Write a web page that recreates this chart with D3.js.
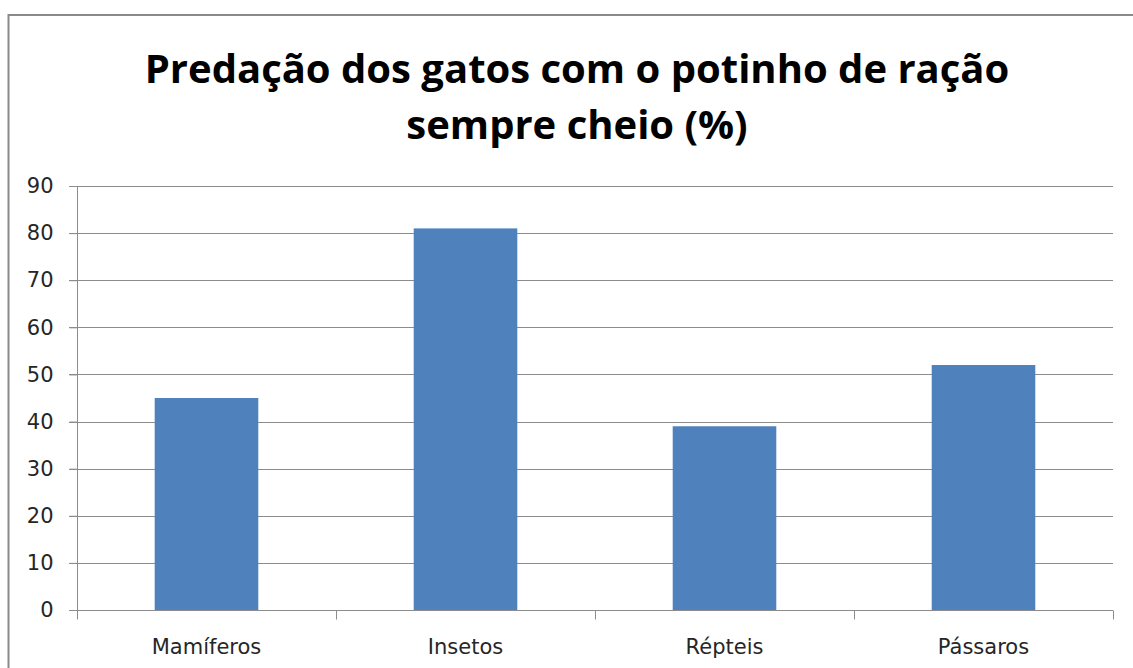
<!DOCTYPE html>
<html>
<head>
<meta charset="utf-8">
<script src="https://cdn.jsdelivr.net/npm/d3@7"></script>
<style>
  html, body { margin: 0; padding: 0; background: #fff; }
  svg { display: block; }
</style>
</head>
<body>
<svg id="chart" width="1133" height="668"></svg>
<script>
// Categories and percentages of prey
const categories = ["Mamíferos", "Insetos", "Répteis", "Pássaros"];
const values = [45, 81, 39, 52];
const yTicks = [0, 10, 20, 30, 40, 50, 60, 70, 80, 90];
const titleLines = ["Predação dos gatos com o potinho de ração", "sempre cheio (%)"];

const svg = d3.select("#chart");
const W = 1133, H = 668;
const margin = { left: 77, top: 186 };
const plotRight = 1113, plotBottom = 610;

// Outer frame
svg.append("rect")
  .attr("x", 8.5).attr("y", 15)
  .attr("width", W + 10).attr("height", H + 10)
  .attr("fill", "none").attr("stroke", "#8a8a8a").attr("stroke-width", 2);

// Title
const title = svg.append("text")
  .attr("text-anchor", "middle")
  .attr("font-family", "'Open Sans', 'Liberation Sans', sans-serif")
  .attr("font-weight", "bold")
  .attr("font-size", 40)
  .attr("fill", "#000");
titleLines.forEach((t, i) => {
  title.append("tspan").attr("x", 577).attr("y", 83 + i * 56).text(t);
});

const x = d3.scaleBand().domain(categories).range([margin.left, plotRight]).paddingInner(0.6).paddingOuter(0.3);
const xOuter = d3.scaleBand().domain(categories).range([margin.left, plotRight]);
const y = d3.scaleLinear().domain([0, 90]).range([plotBottom, margin.top]);

// Gridlines
svg.append("g").selectAll("line").data(yTicks).join("line")
  .attr("x1", margin.left - 8).attr("x2", plotRight)
  .attr("y1", d => Math.round(y(d)) + 0.5).attr("y2", d => Math.round(y(d)) + 0.5)
  .attr("stroke", "#8c8c8c").attr("stroke-width", 1);

// Y axis
const yAxis = d3.axisLeft(y).tickValues(yTicks).tickSize(8).tickPadding(16);
const gy = svg.append("g").attr("transform", `translate(${margin.left + 0.5},0)`).call(yAxis);
gy.select(".domain").attr("stroke", "#8c8c8c").attr("d", `M0,${margin.top}V${plotBottom}`);
gy.selectAll(".tick line").attr("stroke", "#8c8c8c");
gy.selectAll(".tick text")
  .attr("font-family", "'DejaVu Sans', sans-serif")
  .attr("font-size", 21).attr("fill", "#262626");

// Bars
svg.append("g").selectAll("rect").data(categories).join("rect")
  .attr("x", d => x(d))
  .attr("width", x.bandwidth())
  .attr("y", (d, i) => y(values[i]))
  .attr("height", (d, i) => plotBottom - y(values[i]))
  .attr("fill", "#4f81bd");

// X axis
const gx = svg.append("g").attr("transform", `translate(0,${plotBottom + 0.5})`);
gx.append("line").attr("x1", margin.left).attr("x2", plotRight).attr("stroke", "#8c8c8c");
const edges = [margin.left, ...categories.map(c => xOuter(c) + xOuter.bandwidth())];
gx.selectAll("line.tk").data(edges).join("line").attr("class", "tk")
  .attr("x1", d => Math.round(d) + 0.5).attr("x2", d => Math.round(d) + 0.5)
  .attr("y1", 0).attr("y2", 9).attr("stroke", "#8c8c8c");
gx.selectAll("text").data(categories).join("text")
  .attr("x", d => xOuter(d) + xOuter.bandwidth() / 2)
  .attr("y", 43)
  .attr("text-anchor", "middle")
  .attr("font-family", "'DejaVu Sans', sans-serif")
  .attr("font-size", 21).attr("fill", "#262626")
  .text(d => d);
</script>
</body>
</html>
